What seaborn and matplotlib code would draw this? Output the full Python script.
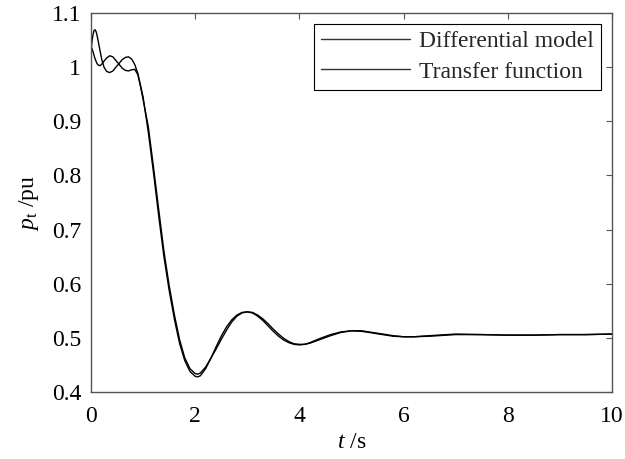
import numpy as np
import pandas as pd
import matplotlib
matplotlib.use("Agg")
import matplotlib.pyplot as plt
import seaborn as sns

t = [0, 0.02, 0.04, 0.06, 0.08, 0.10, 0.12, 0.15, 0.18, 0.21, 0.25, 0.3, 0.36, 0.42,
     0.48, 0.54, 0.6, 0.66, 0.72, 0.78, 0.84, 0.9, 0.95, 1.0,
     1.1, 1.2, 1.3, 1.4, 1.5, 1.6, 1.7, 1.8, 1.9, 2.0,
     2.05, 2.1, 2.2, 2.3, 2.4, 2.5, 2.6, 2.7, 2.8, 2.9,
     3.0, 3.1, 3.2, 3.3, 3.4, 3.5, 3.6, 3.7, 3.8, 3.9,
     4.0, 4.1, 4.2, 4.4, 4.6, 4.8, 5.0, 5.2, 5.4, 5.6,
     5.8, 6.0, 6.2, 6.5, 7.0, 7.5, 8.0, 8.5, 9.0, 9.5, 10.0]

differential_model = [1.03, 1.048, 1.061, 1.068, 1.069, 1.065, 1.057, 1.042, 1.027, 1.013,
                      1.0, 0.992, 0.99, 0.993, 1.0, 1.007, 1.014, 1.018, 1.019, 1.015,
                      1.005, 0.988, 0.966, 0.945,
                      0.88, 0.805, 0.725, 0.65, 0.588, 0.535, 0.49, 0.458, 0.438, 0.429,
                      0.428, 0.43, 0.443, 0.462, 0.483, 0.503, 0.52, 0.533, 0.542, 0.547,
                      0.548, 0.546, 0.54, 0.532, 0.522, 0.512, 0.503, 0.496, 0.491, 0.488,
                      0.487, 0.488, 0.491, 0.499, 0.506, 0.511, 0.513, 0.512, 0.509, 0.506,
                      0.503, 0.502, 0.502, 0.504, 0.507, 0.506, 0.505, 0.505, 0.506, 0.506, 0.507]

transfer_function = [1.038, 1.034, 1.028, 1.021, 1.015, 1.01, 1.006, 1.003, 1.003, 1.006,
                     1.011, 1.017, 1.021, 1.019, 1.012, 1.005, 0.998, 0.994, 0.993, 0.995,
                     0.996, 0.986, 0.965, 0.94,
                     0.89, 0.815, 0.737, 0.66, 0.597, 0.543, 0.497, 0.463, 0.443, 0.434,
                     0.433, 0.435, 0.446, 0.462, 0.479, 0.497, 0.514, 0.529, 0.540, 0.546,
                     0.548, 0.547, 0.542, 0.535, 0.526, 0.516, 0.507, 0.499, 0.493, 0.489,
                     0.488, 0.488, 0.490, 0.497, 0.504, 0.510, 0.513, 0.513, 0.510, 0.507,
                     0.504, 0.502, 0.502, 0.503, 0.506, 0.506, 0.505, 0.505, 0.506, 0.506, 0.507]

series_names = ["Differential model", "Transfer function"]
x_ticks = [0, 2, 4, 6, 8, 10]
y_ticks = [0.4, 0.5, 0.6, 0.7, 0.8, 0.9, 1.0, 1.1]
y_tick_labels = ["0.4", "0.5", "0.6", "0.7", "0.8", "0.9", "1", "1.1"]

assert len(t) == len(differential_model) == len(transfer_function)

df = pd.DataFrame({
    "t": t * 2,
    "p": differential_model + transfer_function,
    "series": [series_names[0]] * len(t) + [series_names[1]] * len(t),
})

sns.set_theme(style="white")
plt.rcParams["font.family"] = ["Liberation Serif", "DejaVu Serif"]
plt.rcParams["mathtext.fontset"] = "custom"
plt.rcParams["mathtext.rm"] = "Liberation Serif"
plt.rcParams["mathtext.it"] = "Liberation Serif:italic"

FS = 17

fig = plt.figure(figsize=(6.25, 4.59), dpi=100)
ax = fig.add_axes([0.1456, 0.146, 0.979 - 0.1456, 0.9717 - 0.146])

sns.lineplot(data=df, x="t", y="p", hue="series", palette=["black", "black"],
             linewidth=1.0, ax=ax, sort=False, estimator=None)

ax.set_xlim(0, 10)
ax.set_ylim(0.4, 1.1)
ax.set_xticks(x_ticks)
ax.set_xticklabels([str(v) for v in x_ticks])
ax.set_yticks(y_ticks)
ax.set_yticklabels(y_tick_labels)
ax.tick_params(direction="in", length=4, width=0.8, top=True, right=True,
               labelsize=FS, colors="#555555", labelcolor="black")
ax.tick_params(axis="x", pad=10)
ax.tick_params(axis="y", pad=7)
for s in ax.spines.values():
    s.set_color("#555555")
    s.set_linewidth(1.0)

ax.set_xlabel(r"$\mathit{t}$ /s", fontsize=FS, color="black", labelpad=4)
ax.set_ylabel(r"$\mathit{p}_{\mathrm{t}}$ /pu", fontsize=FS, color="black", labelpad=8)

leg = ax.legend(loc="upper right", fontsize=FS, frameon=True, fancybox=False,
                edgecolor="black", framealpha=1, handlelength=3.75, handletextpad=0.4,
                borderpad=0.3, labelspacing=0.38, borderaxespad=0.45)
leg.get_frame().set_linewidth(0.8)
for h in leg.get_lines():
    h.set_linewidth(1.0)
    h.set_color("#333333")

fig.savefig("out.png", dpi=100)
